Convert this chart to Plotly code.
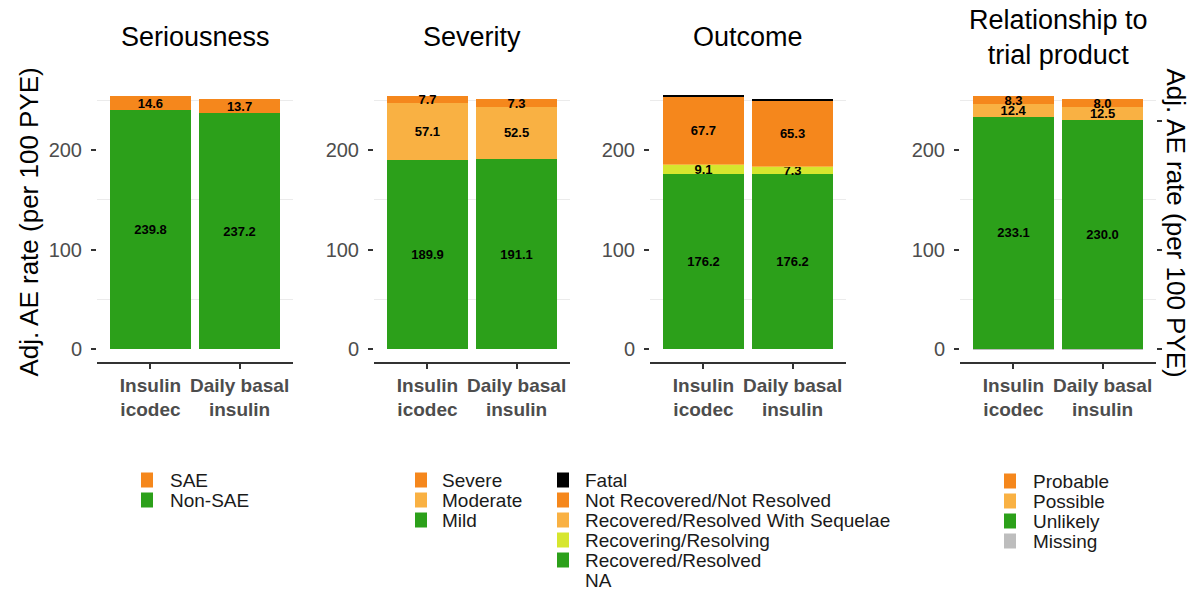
import plotly.graph_objects as go

W, H = 1199, 590

# Treatment groups (x categories)
groups = ["Insulin icodec", "Daily basal insulin"]
group_ticks = ["Insulin<br>icodec", "Daily basal<br>insulin"]

# Y axis ticks
y_ticks = [0, 100, 200]
y_minor = [50, 150, 250]
right_ticks = [0, 100, 229]

# Seriousness
ser_nonsae = [239.8, 237.2]
ser_sae = [14.6, 13.7]

# Severity
sev_mild = [189.9, 191.1]
sev_moderate = [57.1, 52.5]
sev_severe = [7.7, 7.3]

# Outcome
out_na = [0.0, 0.0]
out_recovered = [176.2, 176.2]
out_recovering = [9.1, 7.3]
out_sequelae = [0.5, 0.8]
out_notrecovered = [67.7, 65.3]
out_fatal = [0.9, 1.3]

# Relationship to trial product
rel_missing = [0.6, 0.4]
rel_unlikely = [233.1, 230.0]
rel_possible = [12.4, 12.5]
rel_probable = [8.3, 8.0]

ORANGE = "#F5871C"
LIGHT = "#F9B143"
GREEN = "#2CA01A"
LIME = "#D6E62E"
GREY = "#BDBDBD"
BLACK = "#000000"

FONT = "Liberation Sans, Arial, sans-serif"

# (title, stack from bottom to top: (name, values, colour, labelled))
panels = [
    ("Seriousness", [
        ("Non-SAE", ser_nonsae, GREEN, True),
        ("SAE", ser_sae, ORANGE, True),
    ]),
    ("Severity", [
        ("Mild", sev_mild, GREEN, True),
        ("Moderate", sev_moderate, LIGHT, True),
        ("Severe", sev_severe, ORANGE, True),
    ]),
    ("Outcome", [
        ("NA", out_na, None, False),
        ("Recovered/Resolved", out_recovered, GREEN, True),
        ("Recovering/Resolving", out_recovering, LIME, True),
        ("Recovered/Resolved With Sequelae", out_sequelae, LIGHT, False),
        ("Not Recovered/Not Resolved", out_notrecovered, ORANGE, True),
        ("Fatal", out_fatal, BLACK, False),
    ]),
    ("Relationship to<br>trial product", [
        ("Missing", rel_missing, GREY, False),
        ("Unlikely", rel_unlikely, GREEN, True),
        ("Possible", rel_possible, LIGHT, True),
        ("Probable", rel_probable, ORANGE, True),
    ]),
]

# panel geometry in pixels
panel_x = [(97, 293), (374, 570), (650, 846), (960, 1156)]
plot_top, plot_bottom = 83, 362
y_range = [-12.7, 267.4]

# legend placement: key left, text left, first row centre
legend_pos = [(141, 168, 480), (415, 440, 480), (557, 583, 480), (1004, 1031, 481)]
ROW = 20


def px(x):
    return x / W


def py(y):
    return 1 - y / H


fig = go.Figure()
layout = dict(barmode="stack", bargap=0.1)
annotations, shapes = [], []

for i, (title, stack) in enumerate(panels):
    n = i + 1
    xa, ya = f"x{n}", f"y{n}"
    for name, vals, color, labelled in stack:
        fig.add_trace(go.Bar(
            x=groups, y=vals, name=name, xaxis=xa, yaxis=ya,
            marker=dict(color=color if color else "rgba(0,0,0,0)", line=dict(width=0)),
            width=0.9,
            text=[f"{v:.1f}" for v in vals] if labelled else None,
            textposition="inside", insidetextanchor="middle",
            textangle=0, constraintext="none",
            insidetextfont=dict(family=FONT, size=13, color="black", weight="bold"),
            showlegend=False, hoverinfo="skip",
        ))

    x0, x1 = panel_x[i]
    key = "" if n == 1 else str(n)
    layout[f"xaxis{key}"] = dict(
        domain=[px(x0), px(x1)], anchor=ya, type="category",
        range=[-0.6, 1.6], tickvals=groups, ticktext=group_ticks,
        showline=True, linecolor="#333333", linewidth=1.5,
        ticks="outside", ticklen=5, tickwidth=1.5, tickcolor="#333333",
        tickfont=dict(family=FONT, size=19, color="#4D4D4D", weight="bold"),
        showgrid=False, zeroline=False, fixedrange=True,
    )
    layout[f"yaxis{key}"] = dict(
        domain=[py(plot_bottom), py(plot_top)], anchor=xa,
        range=y_range, tickvals=y_ticks,
        ticks="outside", ticklen=5, tickwidth=1.5, tickcolor="#333333",
        tickfont=dict(family=FONT, size=20, color="#4D4D4D"),
        ticklabelstandoff=5,
        showgrid=False, zeroline=False, showline=False,
        minor=dict(tickvals=y_minor, showgrid=True, gridcolor="#EBEBEB",
                   gridwidth=1, ticks=""),
    )

    # panel title
    annotations.append(dict(
        text=title, x=px((x0 + x1) / 2), y=py(37), xref="paper", yref="paper",
        xanchor="center", yanchor="middle", showarrow=False,
        font=dict(family=FONT, size=27, color="black"),
    ))

    # legend, top entry first
    kx, tx, y0 = legend_pos[i]
    for r, (name, vals, color, labelled) in enumerate(reversed(stack)):
        yc = y0 + r * ROW
        if color:
            shapes.append(dict(
                type="rect", xref="paper", yref="paper",
                x0=px(kx), x1=px(kx + 12), y0=py(yc - 7.5), y1=py(yc + 7.5),
                fillcolor=color, line=dict(width=0),
            ))
        annotations.append(dict(
            text=name, x=px(tx), y=py(yc), xref="paper", yref="paper",
            xanchor="left", yanchor="middle", showarrow=False,
            font=dict(family=FONT, size=19, color="#1A1A1A"),
        ))

# secondary axis on the last panel (tick marks only)
fig.add_trace(go.Scatter(x=[], y=[], xaxis="x4", yaxis="y5", showlegend=False))
layout["yaxis5"] = dict(
    overlaying="y4", anchor="x4", side="right", range=y_range,
    tickvals=right_ticks, showticklabels=False,
    ticks="outside", ticklen=5, tickwidth=1.5, tickcolor="#333333",
    showgrid=False, zeroline=False, showline=False,
)

# axis titles
annotations.append(dict(
    text="Adj. AE rate (per 100 PYE)", x=px(28), y=py((plot_top + plot_bottom) / 2),
    xref="paper", yref="paper", textangle=-90, showarrow=False,
    xanchor="center", yanchor="middle", font=dict(family=FONT, size=26, color="black"),
))
annotations.append(dict(
    text="Adj. AE rate (per 100 PYE)", x=px(1176), y=py((plot_top + plot_bottom) / 2),
    xref="paper", yref="paper", textangle=90, showarrow=False,
    xanchor="center", yanchor="middle", font=dict(family=FONT, size=26, color="black"),
))

fig.update_layout(
    **layout,
    annotations=annotations, shapes=shapes,
    width=W, height=H, margin=dict(l=0, r=0, t=0, b=0),
    paper_bgcolor="white", plot_bgcolor="white",
    font=dict(family=FONT),
)

fig.write_html("out.html", config={"displayModeBar": False})
